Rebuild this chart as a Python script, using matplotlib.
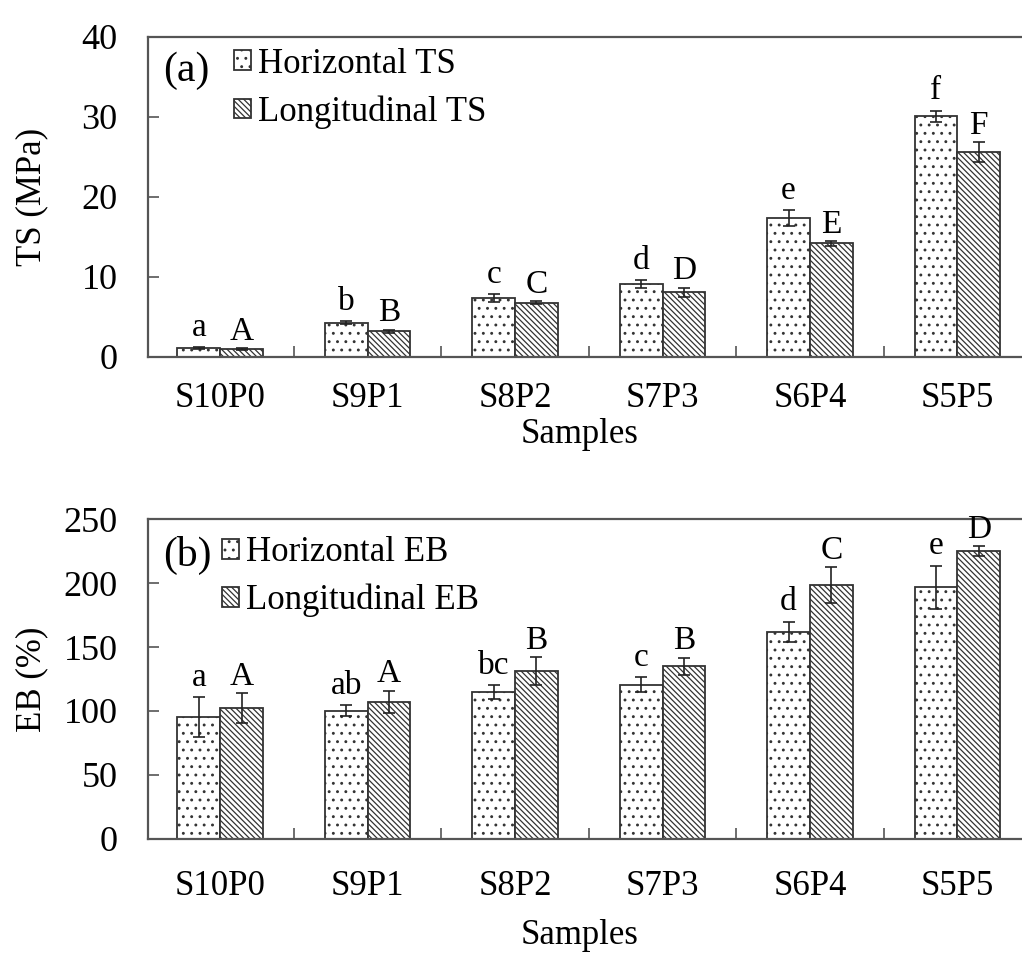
import matplotlib.pyplot as plt
import numpy as np

plt.rcParams['font.family'] = ['Liberation Serif', 'DejaVu Serif']
plt.rcParams['hatch.linewidth'] = 0.9

# samples on the x axis
samples = ['S10P0', 'S9P1', 'S8P2', 'S7P3', 'S6P4', 'S5P5']

# (a) tensile strength, MPa
ts_h = [1.1, 4.3, 7.4, 9.1, 17.4, 30.1]
ts_h_err = [0.15, 0.2, 0.5, 0.5, 1.0, 0.7]
ts_l = [1.0, 3.2, 6.8, 8.1, 14.2, 25.6]
ts_l_err = [0.1, 0.2, 0.15, 0.55, 0.3, 1.25]
ts_h_grp = ['a', 'b', 'c', 'd', 'e', 'f']
ts_l_grp = ['A', 'B', 'C', 'D', 'E', 'F']

# (b) elongation at break, %
eb_h = [95.5, 100.2, 115, 120.7, 162, 196.6]
eb_h_err = [15.6, 4.3, 5.5, 5.6, 7.8, 17]
eb_l = [102, 107.3, 131, 135, 198.4, 225]
eb_l_err = [11.7, 8.5, 11, 6.5, 14, 4]
eb_h_grp = ['a', 'ab', 'bc', 'c', 'd', 'e']
eb_l_grp = ['A', 'A', 'B', 'B', 'C', 'D']

W = 0.29
x = np.arange(len(samples))
edge = '#333333'


def panel(ax, h, herr, l, lerr, hg, lg, ymax, ystep, ylab, names, xpad, xlab_y):
    ax.bar(x - W / 2, h, W, color='white', edgecolor=edge, hatch='..', linewidth=1.3,
           label=names[0])
    ax.bar(x + W / 2, l, W, color='white', edgecolor=edge, hatch='\\' * 6, linewidth=1.3,
           label=names[1])
    ax.errorbar(x - W / 2, h, yerr=herr, fmt='none', ecolor='#222222', elinewidth=1.2,
                capsize=4, capthick=1.2)
    ax.errorbar(x + W / 2, l, yerr=lerr, fmt='none', ecolor='#222222', elinewidth=1.2,
                capsize=4, capthick=1.2)
    for i in range(len(x)):
        ax.annotate(hg[i], (x[i] - W / 2, h[i] + herr[i]), xytext=(0, 3),
                    textcoords='offset points', ha='center', va='bottom', fontsize=24)
        ax.annotate(lg[i], (x[i] + W / 2, l[i] + lerr[i]), xytext=(0, 1),
                    textcoords='offset points', ha='center', va='bottom', fontsize=24)

    ax.set_xlim(-0.49, 5.52)
    ax.set_ylim(0, ymax)
    ax.set_yticks(np.arange(0, ymax + 1, ystep))
    ax.set_xticks(x[:-1] + 0.5)
    ax.set_xticklabels([])
    ax.set_xticks(x, minor=True)
    ax.set_xticklabels(samples, minor=True)
    ax.tick_params(axis='x', which='major', direction='in', length=8, width=1.2, color='#555555')
    ax.tick_params(axis='x', which='minor', length=0, pad=xpad, labelsize=25)
    ax.tick_params(axis='y', direction='in', length=8, width=1.2, color='#555555',
                   pad=22, labelsize=26)
    for s in ax.spines.values():
        s.set_color('#555555')
        s.set_linewidth(1.6)
    ax.spines['right'].set_visible(False)

    ax.set_xlabel('Samples', fontsize=25)
    ax.xaxis.set_label_coords(0.4876, xlab_y)
    ax.set_ylabel(ylab, fontsize=25)
    ax.yaxis.set_label_coords(-0.113, 0.5)
    return ax


fig = plt.figure(figsize=(10.22, 9.56), dpi=100)
ax1 = fig.add_axes([0.1448, 0.6266, 0.867, 0.3347])
ax2 = fig.add_axes([0.1448, 0.1224, 0.867, 0.3347])

panel(ax1, ts_h, ts_h_err, ts_l, ts_l_err, ts_h_grp, ts_l_grp, 40, 10, 'TS (MPa)',
      ['Horizontal TS', 'Longitudinal TS'], 18, -0.19)
panel(ax2, eb_h, eb_h_err, eb_l, eb_l_err, eb_h_grp, eb_l_grp, 250, 50, 'EB (%)',
      ['Horizontal EB', 'Longitudinal EB'], 22, -0.25)

legend_kw = dict(loc='upper left', frameon=False, fontsize=25, handlelength=0.5,
                 handleheight=0.5, handletextpad=0.2, labelspacing=0.42, borderaxespad=0)
ax1.text(0.017, 0.895, '(a)', transform=ax1.transAxes, fontsize=30, va='center', ha='left')
ax1.legend(bbox_to_anchor=(0.081, 1.01), **legend_kw)
ax2.text(0.017, 0.885, '(b)', transform=ax2.transAxes, fontsize=30, va='center', ha='left')
ax2.legend(bbox_to_anchor=(0.068, 0.99), **legend_kw)

plt.savefig('out.png', dpi=100)
